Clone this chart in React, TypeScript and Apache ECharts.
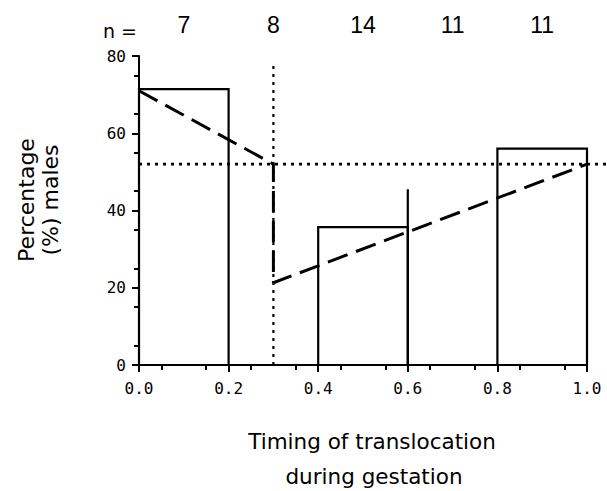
import React, { useEffect, useRef } from "react";
import * as echarts from "echarts";

// ---- data ----
const binStart = [0, 0.2, 0.4, 0.6, 0.8];
const binEnd = [0.2, 0.4, 0.6, 0.8, 1.0];
const malePct = [71.4, 0, 35.7, 45.5, 56];
const topDrawn = [1, 1, 1, 0, 1];
const binMid = [0.1, 0.3, 0.5, 0.7, 0.9];
const sampleN = [7, 8, 14, 11, 11];
const fitX = [0, 0.3, 0.3, 1.0];
const fitY = [71, 52, 21.3, 52];
const overallPct = 52;
const splitX = 0.3;
const splitTop = 78;
const xMinorTicks = [0.05, 0.15, 0.25, 0.35, 0.45, 0.55, 0.65, 0.75, 0.85, 0.95];
const yMinorTicks = [5, 15, 25, 35, 45, 55, 65, 75];

const BLACK = "#000";
const SANS = "DejaVu Sans, sans-serif";
const ARIAL = "Liberation Sans, Arial, sans-serif";
const MONO = "DejaVu Sans Mono, monospace";

export default function App() {
  const ref = useRef<HTMLDivElement>(null);
  useEffect(() => {
    if (!ref.current) return;
    const chart = echarts.init(ref.current, null, { renderer: "svg" });
    const option: any = {
      animation: false,
      backgroundColor: "#fff",
      grid: [
        { left: 139, right: 20, top: 56, bottom: 126 },
        { left: 139, right: 0, top: 56, bottom: 126 },
      ],
      xAxis: [
        {
          gridIndex: 0, type: "value", min: 0, max: 1, interval: 0.2, position: "bottom",
          axisLine: { show: true, onZero: false, lineStyle: { color: BLACK, width: 2 } },
          axisTick: { show: true, inside: false, length: 7, lineStyle: { color: BLACK, width: 2 } },
          axisLabel: { formatter: (v: number) => v.toFixed(1), fontFamily: MONO, fontSize: 16, color: BLACK, margin: 15 },
          splitLine: { show: false },
          z: 10,
        },
        {
          gridIndex: 0, type: "value", min: 0, max: 1, position: "bottom",
          axisLine: { show: false, onZero: false },
          axisLabel: { show: false },
          splitLine: { show: false },
          axisTick: { show: true, inside: false, length: 5, customValues: xMinorTicks, lineStyle: { color: BLACK, width: 2 } },
          z: 10,
        },
        {
          gridIndex: 0, type: "value", min: 0, max: 1, position: "top",
          axisLine: { show: false, onZero: false },
          axisTick: { show: false },
          splitLine: { show: false },
          axisLabel: {
            show: true, customValues: binMid,
            formatter: (v: number) => {
              const i = binMid.findIndex((m) => Math.abs(m - v) < 1e-6);
              return i >= 0 ? String(sampleN[i]) : "";
            },
            fontFamily: ARIAL, fontSize: 23, color: BLACK, margin: 20,
          },
        },
        { gridIndex: 1, type: "value", min: 0, max: 1, show: false },
      ],
      yAxis: [
        {
          gridIndex: 0, type: "value", min: 0, max: 80, interval: 20, position: "left",
          axisLine: { show: true, onZero: false, lineStyle: { color: BLACK, width: 2 } },
          axisTick: { show: true, inside: false, length: 7, lineStyle: { color: BLACK, width: 2 } },
          axisLabel: { fontFamily: MONO, fontSize: 16, color: BLACK, margin: 13 },
          splitLine: { show: false },
          z: 10,
        },
        {
          gridIndex: 0, type: "value", min: 0, max: 80, position: "left",
          axisLine: { show: false, onZero: false },
          axisLabel: { show: false },
          splitLine: { show: false },
          axisTick: { show: true, inside: false, length: 5, customValues: yMinorTicks, lineStyle: { color: BLACK, width: 2 } },
          z: 10,
        },
        { gridIndex: 1, type: "value", min: 0, max: 80, show: false },
      ],
      series: [
        {
          type: "custom",
          xAxisIndex: 0, yAxisIndex: 0,
          encode: { x: [0, 1], y: 2 },
          data: binStart.map((s, i) => [s, binEnd[i], malePct[i], topDrawn[i]]),
          renderItem: (params: any, api: any) => {
            const x0 = api.value(0), x1 = api.value(1), v = api.value(2), full = api.value(3);
            if (!(v > 0)) return { type: "group", children: [] };
            const p00 = api.coord([x0, 0]);
            const p0v = api.coord([x0, v]);
            const p1v = api.coord([x1, v]);
            const p10 = api.coord([x1, 0]);
            const pts = full ? [p00, p0v, p1v, p10] : [p00, p0v];
            return {
              type: "polyline",
              shape: { points: pts },
              style: { stroke: BLACK, lineWidth: 2.2, fill: "none", lineJoin: "miter" },
            };
          },
          z: 3,
        },
        {
          type: "line",
          xAxisIndex: 0, yAxisIndex: 0,
          data: fitX.map((x, i) => [x, fitY[i]]),
          showSymbol: false, symbol: "none",
          lineStyle: { color: BLACK, width: 3, type: [21, 9], cap: "butt" },
          z: 4,
        },
        {
          type: "line",
          xAxisIndex: 0, yAxisIndex: 0,
          data: [[splitX, 0], [splitX, splitTop]],
          showSymbol: false, symbol: "none",
          lineStyle: { color: BLACK, width: 2.2, type: [3, 5] },
          z: 2,
        },
        {
          type: "line",
          xAxisIndex: 3, yAxisIndex: 2,
          data: [[0, overallPct], [1, overallPct]],
          showSymbol: false, symbol: "none",
          lineStyle: { color: BLACK, width: 2.8, type: [3, 5] },
          z: 2,
        },
      ],
      graphic: [
        { type: "text", x: 103, y: 40, style: { text: "n =", font: `19px ${SANS}`, fill: BLACK, verticalAlign: "bottom", align: "left" } },
        { type: "text", x: 26, y: 200, rotation: Math.PI / 2, style: { text: "Percentage", font: `22px ${SANS}`, fill: BLACK, align: "center", verticalAlign: "middle" } },
        { type: "text", x: 50, y: 200, rotation: Math.PI / 2, style: { text: "(%) males", font: `22px ${SANS}`, fill: BLACK, align: "center", verticalAlign: "middle" } },
        { type: "text", x: 372, y: 441, style: { text: "Timing of translocation", font: `21.5px ${SANS}`, fill: BLACK, align: "center", verticalAlign: "middle" } },
        { type: "text", x: 374, y: 476, style: { text: "during gestation", font: `21.5px ${SANS}`, fill: BLACK, align: "center", verticalAlign: "middle" } },
      ],
    };
    chart.setOption(option);
    return () => chart.dispose();
  }, []);
  return (
    <div
      ref={ref}
      style={{ position: "fixed", left: 0, top: 0, width: 607, height: 491, background: "#fff" }}
    />
  );
}
